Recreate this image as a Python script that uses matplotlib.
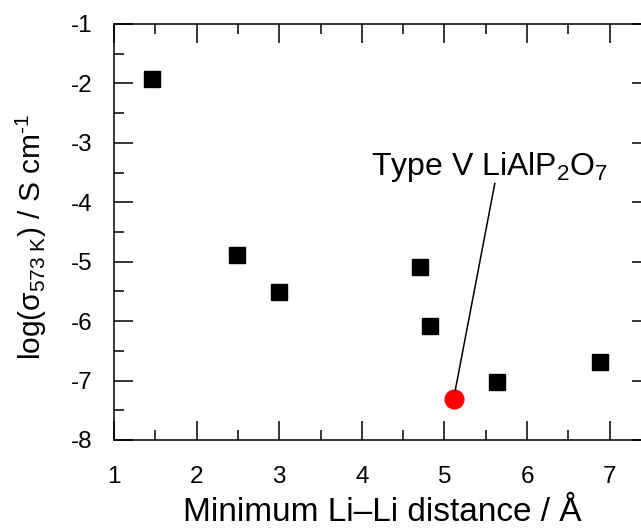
import matplotlib
matplotlib.use("Agg")
import matplotlib.pyplot as plt
from matplotlib.ticker import MultipleLocator

plt.rcParams['font.family'] = ['Liberation Sans', 'DejaVu Sans']
plt.rcParams['mathtext.fontset'] = 'custom'
plt.rcParams['mathtext.rm'] = 'Liberation Sans'
plt.rcParams['mathtext.it'] = 'Liberation Sans:italic'
plt.rcParams['mathtext.bf'] = 'Liberation Sans:bold'
plt.rcParams['axes.unicode_minus'] = False

# other compounds (black squares)
li_dist = [1.46, 2.49, 3.00, 4.71, 4.83, 5.63, 6.88]
log_sigma = [-1.93, -4.89, -5.51, -5.09, -6.08, -7.03, -6.69]

# type V LiAlP2O7 (red circle)
lialp_dist = [5.12]
lialp_sigma = [-7.31]

fig = plt.figure(figsize=(6.41, 5.28), dpi=100)
ax = fig.add_axes([0.1778, 0.1667, 0.8378, 0.7879])

ax.plot(li_dist, log_sigma, 's', color='black', markersize=11.5, zorder=3)
ax.plot(lialp_dist, lialp_sigma, 'o', color='#ff0000', markersize=13.5, zorder=3)

ax.annotate('', xy=(5.13, -7.17), xytext=(5.61, -3.68),
            arrowprops=dict(arrowstyle='-', lw=1.1, color='black', shrinkA=0, shrinkB=0))
ax.text(5.546, -3.54, 'Type V LiAlP$_{\\mathregular{2}}$O$_{\\mathregular{7}}$',
        fontsize=23, ha='center', va='baseline')

ax.set_xlim(1, 7.5)
ax.set_ylim(-8, -1)
ax.xaxis.set_major_locator(MultipleLocator(1))
ax.xaxis.set_minor_locator(MultipleLocator(0.5))
ax.yaxis.set_major_locator(MultipleLocator(1))
ax.yaxis.set_minor_locator(MultipleLocator(0.5))
ax.tick_params(which='both', direction='in', top=True, right=True, width=1.1,
               labelsize=17.5)
ax.tick_params(axis='x', which='both', pad=18.5)
ax.tick_params(axis='y', which='both', pad=15.8)
ax.tick_params(which='major', length=13.5)
ax.tick_params(which='minor', length=7)
for s in ax.spines.values():
    s.set_linewidth(1.1)

ax.set_xlabel('Minimum Li\u2013Li distance / \u00c5', fontsize=24)
ax.set_ylabel('log(\u03c3$_{\\mathregular{573\\ K}}$) / S cm$^{\\mathregular{\u20101}}$',
              fontsize=21.5)
ax.xaxis.set_label_coords(0.5, -0.137)
ax.yaxis.set_label_coords(-0.121, 0.488)

fig.savefig('out.png', dpi=100)
